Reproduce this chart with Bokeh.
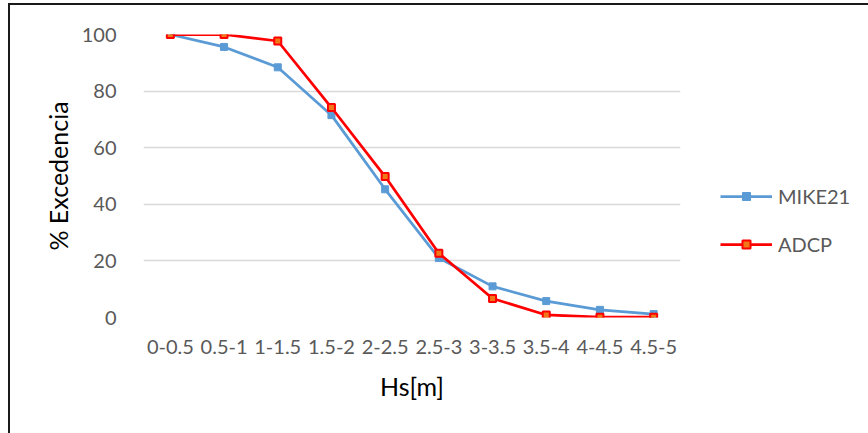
from bokeh.plotting import figure
from bokeh.models import FactorRange, Range1d, Legend, LegendItem, SingleIntervalTicker
from bokeh.embed import file_html
from bokeh.resources import INLINE

# Wave height classes and exceedance percentages
clases = ["0-0.5", "0.5-1", "1-1.5", "1.5-2", "2-2.5", "2.5-3",
          "3-3.5", "3.5-4", "4-4.5", "4.5-5"]
mike21 = [100.0, 95.6, 88.4, 71.5, 45.3, 21.0, 11.0, 5.8, 2.7, 1.2]
adcp = [100.0, 100.0, 97.7, 74.2, 49.8, 22.7, 6.7, 0.9, 0.1, 0.1]

FONT = "Lato"
GRAY = "#595959"
BLUE = "#5b9bd5"
RED = "#ff0000"

p = figure(frame_width=537, frame_height=283, output_backend="svg",
           toolbar_location=None,
           x_range=FactorRange(*clases, range_padding=0),
           y_range=Range1d(0, 100),
           min_border_left=133, min_border_right=188,
           min_border_top=29, min_border_bottom=116)
p.margin = (3, 0, 0, 8)
p.styles = {"border-top": "2px solid #1a1a1a", "border-left": "2px solid #1a1a1a"}
p.outline_line_color = None
p.background_fill_color = "white"
p.border_fill_color = "white"

# axes
p.yaxis.ticker = SingleIntervalTicker(interval=20)
for ax in (p.xaxis[0], p.yaxis[0]):
    ax.axis_line_color = None
    ax.major_tick_line_color = None
    ax.minor_tick_line_color = None
    ax.major_label_text_font = FONT
    ax.major_label_text_font_size = "20px"
    ax.major_label_text_color = GRAY
    ax.axis_label_text_font = FONT
    ax.axis_label_text_font_size = "25px"
    ax.axis_label_text_font_style = "normal"
    ax.axis_label_text_color = "#000000"
p.xaxis.axis_label = "Hs[m]"
p.yaxis.axis_label = "% Excedencia"
p.xaxis.major_label_standoff = 16
p.yaxis.major_label_standoff = 21
p.xaxis.axis_label_standoff = 14
p.yaxis.axis_label_standoff = 6

p.xgrid.grid_line_color = None
p.ygrid.grid_line_color = "#d9d9d9"
p.ygrid.grid_line_width = 1.5

# series
l1 = p.line(clases, mike21, line_color=BLUE, line_width=2.75)
m1 = p.scatter(clases, mike21, marker="square", size=7, fill_color=BLUE,
               line_color=BLUE)
l2 = p.line(clases, adcp, line_color=RED, line_width=2.75)
m2 = p.scatter(clases, adcp, marker="square", size=7, fill_color="#f07818",
               line_color=RED, line_width=2)

legend = Legend(items=[LegendItem(label="MIKE21", renderers=[l1, m1]),
                       LegendItem(label="ADCP", renderers=[l2, m2])],
                location=(40, 61), orientation="vertical")
legend.border_line_color = None
legend.background_fill_alpha = 0
legend.padding = 0
legend.margin = 0
legend.spacing = 24
legend.glyph_width = 52
legend.glyph_height = 20
legend.label_height = 20
legend.label_standoff = 6
legend.label_text_font = FONT
legend.label_text_font_size = "20px"
legend.label_text_color = GRAY
legend.label_text_baseline = "middle"
p.add_layout(legend, "right")

open("out.html", "w").write(file_html(p, INLINE))
